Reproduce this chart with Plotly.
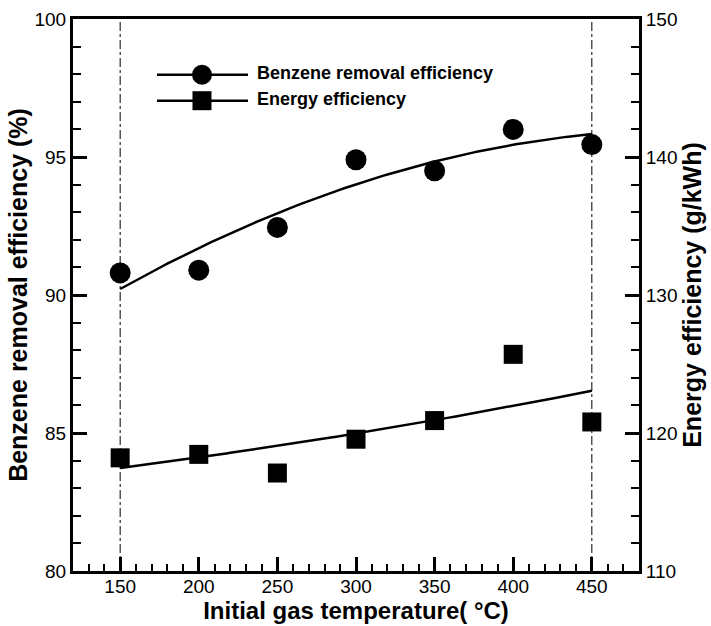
import numpy as np
import plotly.graph_objects as go

# Initial gas temperature (°C)
temperature = [150, 200, 250, 300, 350, 400, 450]
# Benzene removal efficiency (%) - left axis
benzene_removal = [90.8, 90.9, 92.45, 94.9, 94.5, 96.0, 95.45]
# Energy efficiency (g/kWh) - right axis
energy_eff = [118.2, 118.45, 117.1, 119.55, 120.9, 125.7, 120.8]

X_RANGE = [120, 480]
Y_RANGE = [80, 100]
Y2_RANGE = [110, 150]

# Second-order trend lines through each series (plain lists)
xs = np.linspace(min(temperature), max(temperature), 121)
fit_benzene = np.polyval(np.polyfit(temperature, benzene_removal, 2), xs).tolist()
fit_energy = np.polyval(np.polyfit(temperature, energy_eff, 2), xs).tolist()
xs = xs.tolist()

FONT = "Liberation Sans, Arial, sans-serif"
BLACK = "#000000"

fig = go.Figure()

# Dash-dot guides at the ends of the temperature range
for xv in (temperature[0], temperature[-1]):
    fig.add_trace(go.Scatter(x=[xv, xv], y=Y_RANGE, mode="lines", hoverinfo="skip",
                             line=dict(color=BLACK, width=1, dash="dashdot"),
                             showlegend=False))

fig.add_trace(go.Scatter(x=xs, y=fit_benzene, mode="lines",
                         line=dict(color=BLACK, width=2.5), showlegend=False))
fig.add_trace(go.Scatter(x=temperature, y=benzene_removal, mode="markers",
                         marker=dict(symbol="circle", size=21, color=BLACK),
                         showlegend=False))
fig.add_trace(go.Scatter(x=xs, y=fit_energy, mode="lines", yaxis="y2",
                         line=dict(color=BLACK, width=2.5), showlegend=False))
fig.add_trace(go.Scatter(x=temperature, y=energy_eff, mode="markers", yaxis="y2",
                         marker=dict(symbol="square", size=19, color=BLACK),
                         showlegend=False))

# Legend key, drawn on a hidden 0..1 overlay axis pair
legend_rows = [
    ("Benzene removal efficiency", "circle", 0.899, 20),
    ("Energy efficiency", "square", 0.852, 19),
]
lx0, lx1, lmark, ltext = 0.1484, 0.3092, 0.2279, 0.3251
for label, symbol, ly, msize in legend_rows:
    fig.add_trace(go.Scatter(x=[lx0, lx1], y=[ly, ly], xaxis="x2", yaxis="y3",
                             mode="lines", line=dict(color=BLACK, width=2.5),
                             hoverinfo="skip", showlegend=False))
    fig.add_trace(go.Scatter(x=[lmark], y=[ly], xaxis="x2", yaxis="y3", mode="markers",
                             marker=dict(symbol=symbol, size=msize, color=BLACK),
                             hoverinfo="skip", showlegend=False))
    fig.add_trace(go.Scatter(x=[ltext], y=[ly], xaxis="x2", yaxis="y3", mode="text",
                             text=[f"<b>{label}</b>"], textposition="middle right",
                             textfont=dict(family=FONT, size=18, color=BLACK),
                             hoverinfo="skip", showlegend=False))

tick_font = dict(family=FONT, size=19, color=BLACK)
axis_style = dict(showgrid=False, zeroline=False, showline=True, linewidth=3,
                  linecolor=BLACK, ticks="inside", ticklen=14, tickwidth=3,
                  tickcolor=BLACK, tickfont=tick_font, automargin=False)

fig.update_layout(
    width=711, height=626,
    margin=dict(l=73, r=72, t=19, b=55),
    paper_bgcolor="white", plot_bgcolor="white",
    showlegend=False,
    xaxis=dict(range=X_RANGE, tick0=150, dtick=50, mirror=True, ticklabelstandoff=-4,
               title=dict(text="<b>Initial gas temperature( °C)</b>", standoff=0,
                          font=dict(family=FONT, size=24, color=BLACK)),
               minor=dict(ticks="inside", ticklen=7, tickwidth=1.5, dtick=10,
                          tickcolor=BLACK),
               **axis_style),
    yaxis=dict(range=Y_RANGE, tick0=80, dtick=5,
               title=dict(text="<b>Benzene removal efficiency (%)</b>", standoff=0,
                          font=dict(family=FONT, size=25, color=BLACK)),
               minor=dict(ticks="inside", ticklen=8, tickwidth=1.5, dtick=1,
                          tickcolor=BLACK),
               **axis_style),
    yaxis2=dict(range=Y2_RANGE, tick0=110, dtick=10, overlaying="y", side="right",
                title=dict(text="<b>Energy efficiency (g/kWh)</b>", standoff=0,
                           font=dict(family=FONT, size=25, color=BLACK)),
                minor=dict(ticks="inside", ticklen=8, tickwidth=1.5, dtick=2,
                           tickcolor=BLACK),
                **axis_style),
    xaxis2=dict(overlaying="x", range=[0, 1], visible=False, fixedrange=True),
    yaxis3=dict(overlaying="y", range=[0, 1], visible=False, fixedrange=True),
)

fig.write_html("out.html")
